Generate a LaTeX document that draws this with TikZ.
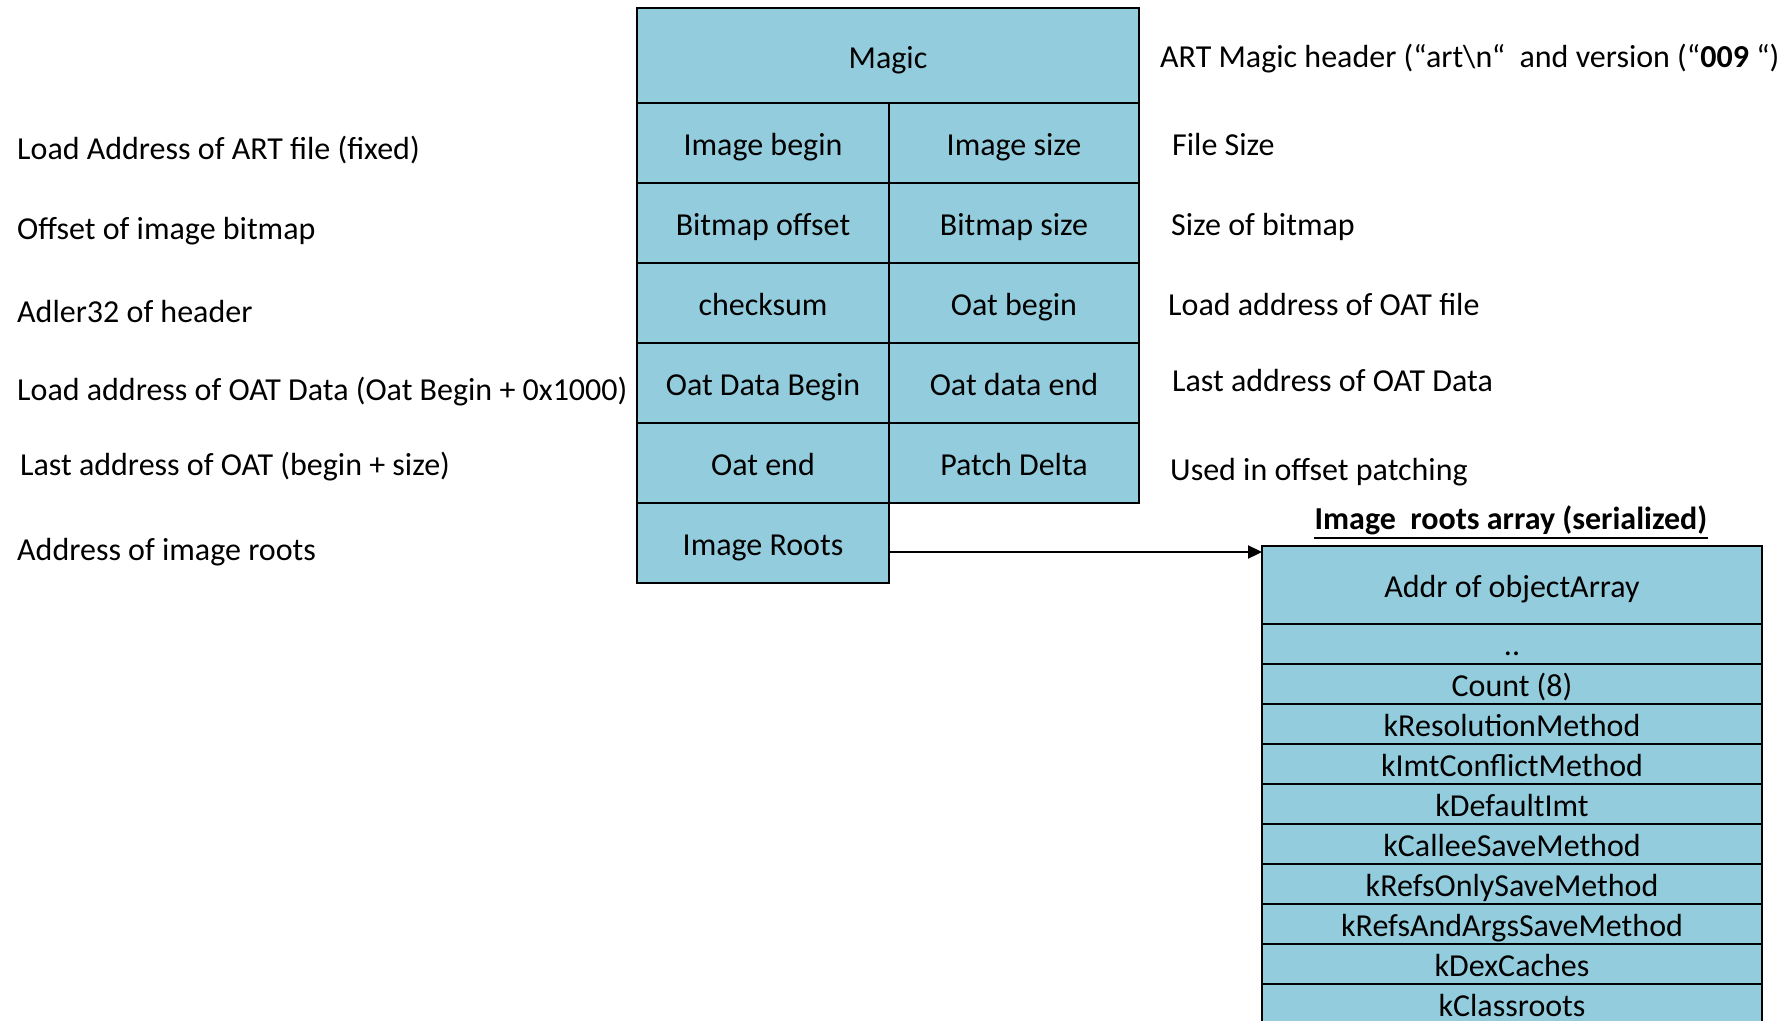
\documentclass[tikz,border=0pt]{standalone}
\usepackage{fontspec}
\setmainfont{Carlito}
\usetikzlibrary{arrows.meta}
\definecolor{cellblue}{HTML}{93CDDD}
\tikzset{
  cell/.style={draw=black, line width=1.8pt, fill=cellblue, inner sep=0pt, text height=31pt, text depth=6pt, font=\fontsize{32}{38}\selectfont},
  lbl/.style={anchor=west, inner sep=0pt, font=\fontsize{32}{38}\selectfont},
}
\begin{document}
\begin{tikzpicture}[x=1pt,y=-1pt]
\useasboundingbox (0,0) rectangle (1791,1020);
\begin{scope}
\clip (0,0) rectangle (1791,1020);
% left table
\node[cell, minimum width=502pt, minimum height=95pt] (magic) at (888,55.5) {Magic};
\node[cell, minimum width=252pt, minimum height=80pt] (ib) at (763,143) {Image begin};
\node[cell, minimum width=250pt, minimum height=80pt] (is) at (1014,143) {Image size};
\node[cell, minimum width=252pt, minimum height=80pt] (bo) at (763,223) {Bitmap offset};
\node[cell, minimum width=250pt, minimum height=80pt] (bs) at (1014,223) {Bitmap size};
\node[cell, minimum width=252pt, minimum height=80pt] (cs) at (763,303) {checksum};
\node[cell, minimum width=250pt, minimum height=80pt] (ob) at (1014,303) {Oat begin};
\node[cell, minimum width=252pt, minimum height=80pt] (odb) at (763,383) {Oat Data Begin};
\node[cell, minimum width=250pt, minimum height=80pt] (ode) at (1014,383) {Oat data end};
\node[cell, minimum width=252pt, minimum height=80pt] (oe) at (763,463) {Oat end};
\node[cell, minimum width=250pt, minimum height=80pt] (pd) at (1014,463) {Patch Delta};
\node[cell, minimum width=252pt, minimum height=80pt] (ir) at (763,543) {Image Roots};
% right table
\node[cell, minimum width=500pt, minimum height=78pt] (addr) at (1512,585) {Addr of objectArray};
\node[cell, minimum width=500pt, minimum height=40pt, text height=22pt, text depth=0pt] (dots) at (1512,644) {..};
\node[cell, minimum width=500pt, minimum height=40pt] (cnt) at (1512,684) {Count (8)};
\node[cell, minimum width=500pt, minimum height=40pt] (r1) at (1512,724) {kResolutionMethod};
\node[cell, minimum width=500pt, minimum height=40pt] (r2) at (1512,764) {kImtConflictMethod};
\node[cell, minimum width=500pt, minimum height=40pt] (r3) at (1512,804) {kDefaultImt};
\node[cell, minimum width=500pt, minimum height=40pt] (r4) at (1512,844) {kCalleeSaveMethod};
\node[cell, minimum width=500pt, minimum height=40pt] (r5) at (1512,884) {kRefsOnlySaveMethod};
\node[cell, minimum width=500pt, minimum height=40pt] (r6) at (1512,924) {kRefsAndArgsSaveMethod};
\node[cell, minimum width=500pt, minimum height=40pt] (r7) at (1512,964) {kDexCaches};
\node[cell, minimum width=500pt, minimum height=40pt, text height=25pt, text depth=0pt] (r8) at (1512,1004) {kClassroots};
\end{scope}
\node[inner sep=0pt, font=\fontsize{32}{38}\selectfont\bfseries] (title) at (1511,520) {Image\ \ roots array (serialized)};
\draw[line width=2pt] ([yshift=-3pt]title.south west) -- ([yshift=-3pt]title.south east);
% arrow
\coordinate (arrend) at (1262,552);
\draw[line width=2.2pt, -{Triangle[length=14pt,width=13pt]}] (ir.east |- arrend) -- (arrend);
% left labels
\node[lbl] (l1) at (17,150.5) {Load Address of ART file (fixed)};
\node[lbl] (l2) at (17,231.5) {Offset of image bitmap};
\node[lbl] (l3) at (17,312) {Adler32 of header};
\node[lbl] (l4) at (17,391.5) {Load address of OAT Data (Oat Begin + 0x1000)};
\node[lbl] (l5) at (20,466.5) {Last address of OAT (begin + size)};
\node[lbl] (l6) at (17,552.5) {Address of image roots};
% right labels
\node[lbl] (q1) at (1160,58.5) {ART Magic header (“art\textbackslash n“\ \ and version (“\textbf{009} “)};
\node[lbl] (q2) at (1172,144) {File Size};
\node[lbl] (q3) at (1171,226.5) {Size of bitmap};
\node[lbl] (q4) at (1168,305) {Load address of OAT file};
\node[lbl] (q5) at (1172,381) {Last address of OAT Data};
\node[lbl] (q6) at (1170,472.5) {Used in offset patching};
\end{tikzpicture}
\end{document}
